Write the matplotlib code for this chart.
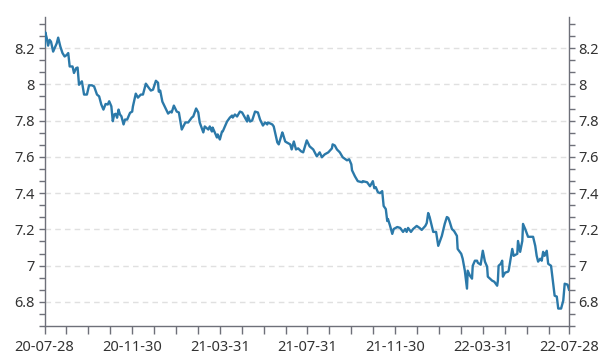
import matplotlib
matplotlib.use('Agg')
import matplotlib.pyplot as plt
import numpy as np

plt.rcParams['font.family'] = ['Noto Sans', 'DejaVu Sans']

# days since 2020-07-28 and the value
day = [0, 1, 3, 5, 7, 9, 12, 15, 17, 19,
       22, 25, 28, 31, 33, 35, 39, 41, 44, 46,
       48, 52, 55, 59, 62, 66, 69, 73, 76, 79,
       82, 85, 88, 90, 93, 95, 97, 99, 101, 103,
       105, 107, 110, 112, 115, 119, 122, 123, 127, 130,
       134, 137, 141, 144, 148, 151, 155, 158, 159, 161,
       164, 168, 172, 175, 177, 180, 184, 187, 191, 196,
       200, 205, 207, 211, 214, 216, 221, 223, 228, 230,
       233, 234, 237, 240, 241, 244, 247, 248, 251, 254,
       258, 261, 262, 265, 268, 272, 275, 279, 282, 283,
       286, 289, 293, 297, 300, 304, 307, 310, 311, 317,
       319, 324, 326, 331, 332, 335, 337, 342, 344, 347,
       350, 353, 357, 360, 365, 369, 374, 379, 383, 386,
       390, 395, 400, 401, 404, 407, 411, 415, 421, 424,
       427, 428, 432, 436, 442, 443, 449, 453, 457, 459,
       461, 464, 467, 470, 472, 475, 477, 478, 481, 484,
       486, 491, 495, 499, 502, 504, 506, 510, 513, 518,
       522, 525, 530, 532, 534, 536, 539, 541, 545, 548,
       553, 557, 560, 562, 564, 567, 570, 574, 575, 580,
       582, 585, 588, 589, 592, 595, 596, 599, 602, 603,
       607, 610, 613, 616, 617, 620, 623, 626, 630, 631,
       632, 635, 637, 638, 641, 645, 646, 651, 653, 658,
       659, 662, 665, 666, 669, 673, 677, 680, 683, 685,
       687, 690, 692, 694, 696, 699, 701, 705, 708, 710,
       713, 715, 719, 722, 724, 728, 730]

rate = [8.209, 8.288, 8.257, 8.214, 8.246, 8.236, 8.181, 8.209, 8.227, 8.258,
        8.209, 8.173, 8.154, 8.163, 8.173, 8.099, 8.099, 8.063, 8.090, 8.093,
        7.998, 8.017, 7.944, 7.944, 7.995, 7.995, 7.989, 7.944, 7.934, 7.889,
        7.861, 7.892, 7.889, 7.907, 7.879, 7.797, 7.834, 7.838, 7.816, 7.861,
        7.834, 7.824, 7.779, 7.806, 7.806, 7.843, 7.850, 7.878, 7.949, 7.927,
        7.944, 7.944, 8.004, 7.987, 7.966, 7.971, 8.020, 8.009, 7.960, 7.966,
        7.905, 7.872, 7.839, 7.850, 7.845, 7.883, 7.850, 7.845, 7.751, 7.790,
        7.790, 7.817, 7.823, 7.867, 7.845, 7.790, 7.735, 7.768, 7.751, 7.768,
        7.740, 7.762, 7.735, 7.707, 7.724, 7.696, 7.740, 7.740, 7.768, 7.795,
        7.817, 7.828, 7.817, 7.834, 7.823, 7.850, 7.845, 7.817, 7.795, 7.828,
        7.795, 7.801, 7.850, 7.845, 7.806, 7.773, 7.790, 7.779, 7.790, 7.779,
        7.768, 7.680, 7.669, 7.735, 7.724, 7.685, 7.680, 7.669, 7.641, 7.685,
        7.641, 7.647, 7.631, 7.625, 7.691, 7.658, 7.641, 7.603, 7.625, 7.598,
        7.614, 7.625, 7.647, 7.669, 7.663, 7.641, 7.625, 7.598, 7.581, 7.587,
        7.559, 7.526, 7.493, 7.466, 7.460, 7.466, 7.460, 7.438, 7.466, 7.427,
        7.433, 7.405, 7.400, 7.411, 7.329, 7.312, 7.246, 7.257, 7.219, 7.175,
        7.202, 7.213, 7.208, 7.186, 7.202, 7.186, 7.208, 7.186, 7.202, 7.219,
        7.208, 7.197, 7.219, 7.235, 7.290, 7.268, 7.219, 7.186, 7.186, 7.109,
        7.164, 7.230, 7.268, 7.263, 7.241, 7.202, 7.191, 7.164, 7.092, 7.065,
        7.038, 6.972, 6.873, 6.972, 6.945, 6.928, 6.999, 7.027, 7.027, 7.016,
        7.005, 7.082, 7.022, 6.994, 6.939, 6.928, 6.917, 6.911, 6.889, 6.917,
        6.999, 7.010, 7.027, 6.939, 6.961, 6.966, 6.972, 7.092, 7.054, 7.065,
        7.136, 7.076, 7.136, 7.230, 7.202, 7.159, 7.159, 7.159, 7.109, 7.054,
        7.022, 7.038, 7.027, 7.076, 7.054, 7.082, 7.010, 6.999, 6.900, 6.834,
        6.829, 6.763, 6.763, 6.807, 6.900, 6.895, 6.867]

date_labels = ['20-07-28', '20-11-30', '21-03-31', '21-07-31',
               '21-11-30', '22-03-31', '22-07-28']
y_labels = [6.8, 7.0, 7.2, 7.4, 7.6, 7.8, 8.0, 8.2]

axis_col = '#6e7079'
text_col = '#333333'

fig = plt.figure(figsize=(6.1, 3.64), dpi=100)
ax = fig.add_axes([0.073, 0.1044, 0.8598, 0.8489])

ax.plot(day, rate, color='#2b79a9', lw=1.7, solid_joinstyle='round', zorder=3)

ax.set_xlim(0, 730)
ax.set_ylim(6.675, 8.372)

# x ticks: a small tick every ~30.5 days, labels every fourth one
xmaj = list(np.arange(6) * 122) + [730]
ax.set_xticks(xmaj)
ax.set_xticklabels(date_labels)
xmin = [t for t in np.arange(0, 730, 30.5) if min(abs(t - m) for m in xmaj) > 1]
ax.set_xticks(xmin, minor=True)

ax.set_yticks(y_labels)
ax.set_yticklabels(['%g' % v for v in y_labels])
ymin = [v for v in np.arange(6.6667, 8.4, 0.2 / 3) if min(abs(v - m) for m in y_labels) > 0.01]
ax.set_yticks(ymin, minor=True)

ax.yaxis.grid(True, which='major', color='#e0e0e0', ls=(0, (4, 3)), lw=1)
ax.set_axisbelow(True)

for s in ['left', 'right', 'bottom']:
    ax.spines[s].set_color(axis_col)
    ax.spines[s].set_linewidth(1)
ax.spines['top'].set_visible(False)

ax.tick_params(axis='y', which='both', left=True, right=True, labelright=True,
               length=4, width=1, color=axis_col, pad=3, labelsize=10.5, labelcolor=text_col)
ax.tick_params(axis='x', which='both', length=5.5, width=1, color=axis_col,
               pad=4.5, labelsize=10.5, labelcolor=text_col)

fig.savefig('out.png', dpi=100)
